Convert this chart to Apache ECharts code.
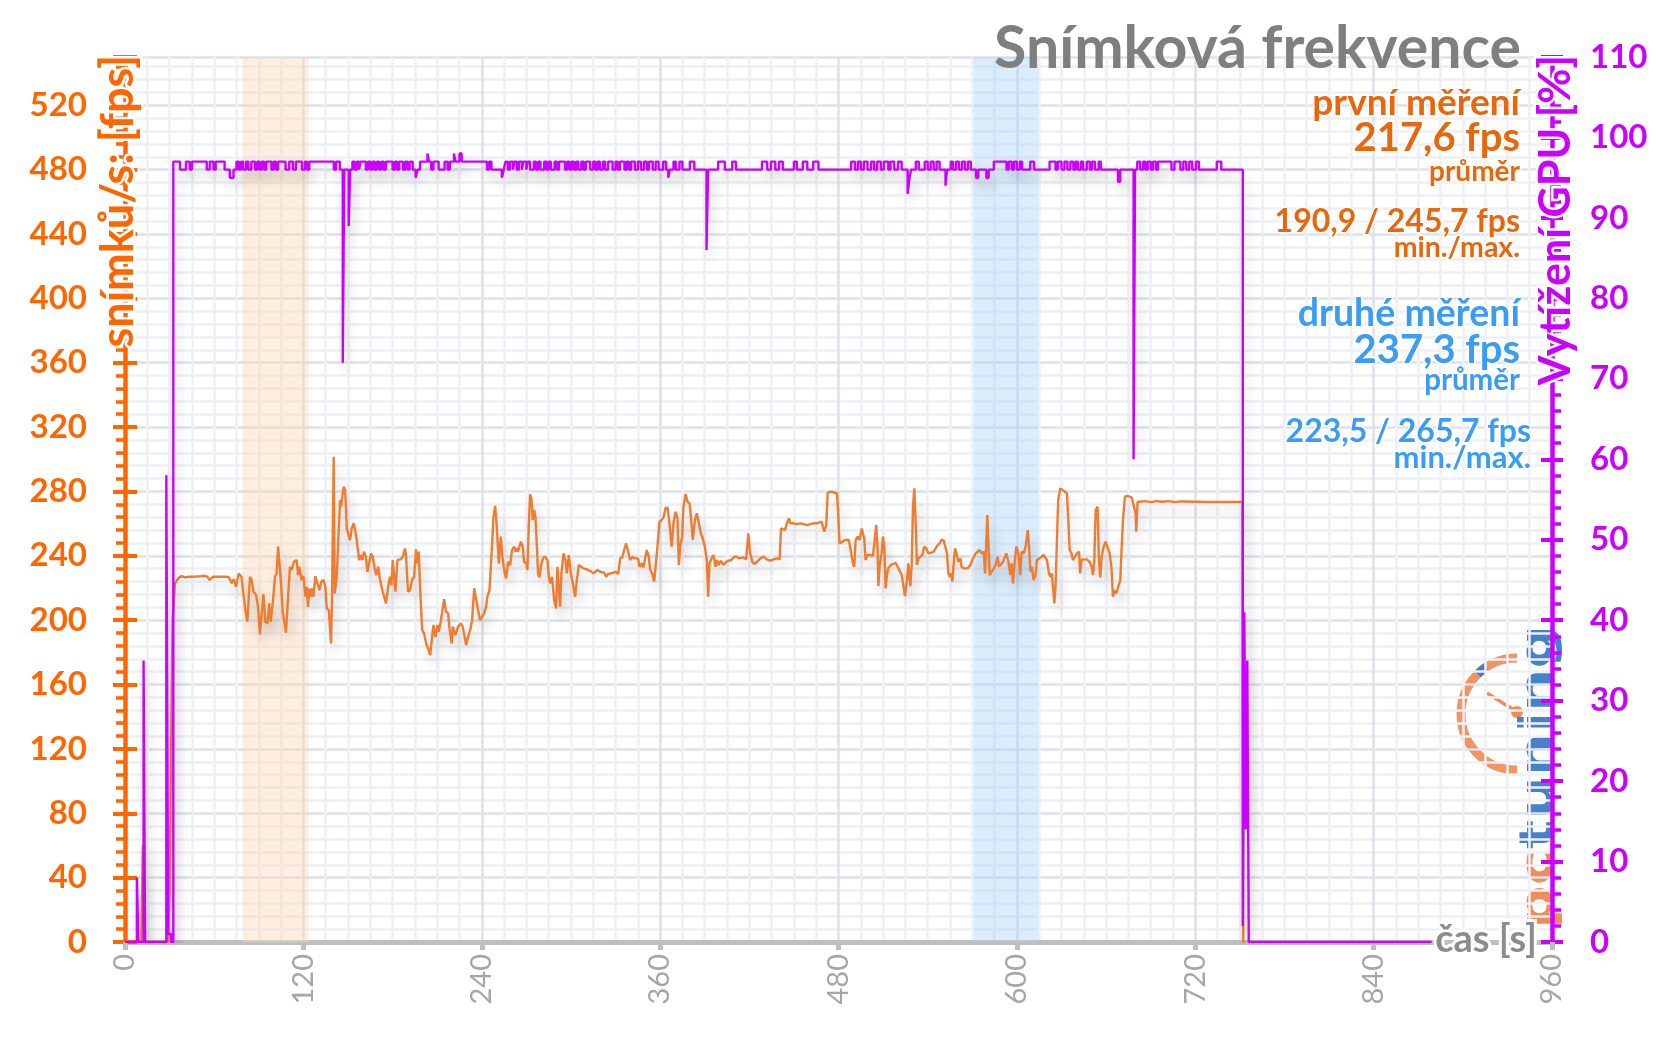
<!DOCTYPE html>
<html>
<head>
<meta charset="utf-8">
<script src="https://cdn.jsdelivr.net/npm/echarts@6/dist/echarts.min.js"></script>
<style>
html,body{margin:0;padding:0;background:#fff;}
#chart{width:1656px;height:1044px;}
</style>
</head>
<body>
<div id="chart"></div>
<script>
// ---------------- DATA ----------------
const xTicks = [0, 120, 240, 360, 480, 600, 720, 840, 960];
const fpsTicks = [0, 40, 80, 120, 160, 200, 240, 280, 320, 360, 400, 440, 480, 520];
const gpuTicks = [0, 10, 20, 30, 40, 50, 60, 70, 80, 90, 100, 110];

// frame rate [s, fps]
const fpsData = [
[0,0],[11,0],[12,60],[13,0],[29,0],[30,30],[31,120],[32,200],[33,214],[33.6,223],[35.9,226],[38.1,227.4],[40.4,226.6],[42.6,227],[46,227],[51,227.4],[53,227.6],[55.5,227],[56.7,225],[59.4,227],[64,227],[68.4,227],[70,226.6],[71.8,223],[73.2,225.6],[74.7,220.8],[76.5,229],[78.3,227],[79.6,216.6],[80.7,208.3],[81.6,208.3],[82.3,199],[84.1,227],[85.2,225],[86.4,217.7],[88.2,215.6],[89.5,208.3],[90.8,191.1],[92,204.2],[93.1,216.2],[94.4,199],[95.8,198],[97.1,210.4],[98,199],[99.4,210.4],[100.9,227],[102,229],[103,245.7],[103.9,244.6],[104.8,225],[106.1,205.2],[107,204.2],[108.3,192.2],[109.7,214.6],[111,233.2],[112.2,231.2],[112.8,233.2],[113.7,236.3],[115.5,237.4],[116.4,228],[117.3,233.2],[118.7,225],[120,227.4],[121.4,214.6],[122.2,220.8],[123.1,208.3],[124,219.6],[125,214.6],[125.8,219.8],[126.7,214.6],[128.1,227.4],[129.4,222.9],[130.8,218.7],[132.1,224],[133.5,225],[134.8,220.8],[135.7,207.3],[137.1,206.2],[138.6,185.5],[139.3,214.6],[140.4,301.6],[141.1,216.6],[142.4,226],[143.8,256],[144.7,274.7],[145.4,270.5],[146,275.7],[147.2,283],[148.1,280.9],[149.2,257],[150.3,256],[151.4,249.8],[152.5,257],[153.9,260.2],[154.8,256],[155.9,249.8],[157.5,237.4],[158.6,240.5],[159.7,237.4],[160.8,242.6],[162,239.4],[163.1,230.1],[164.4,236.3],[165.5,241.5],[166.6,239.4],[167.8,233.2],[168.9,228],[170.3,233.2],[171.6,225],[173.4,217.7],[175.6,210.4],[177.2,221.8],[178.3,227],[179.2,221.8],[180.1,237.4],[181.9,217.7],[183.3,237.4],[184.6,238.4],[185.5,237.8],[186.9,239.4],[188.4,244.6],[189,240.5],[190.4,217.7],[191.8,218.7],[193.1,225],[194.5,227],[195.8,244],[196.7,235.3],[197.6,242.6],[198.5,220.8],[199.9,193.8],[201.2,191.8],[202.6,185.5],[203.9,182.4],[205.3,178.3],[206.6,189.7],[207.5,197],[208.9,189.7],[210.2,197],[211.1,192.8],[212.4,199],[213.7,199],[214.7,213],[216,205.2],[217.4,204.2],[218.3,194.9],[219.8,185.5],[220.5,196],[222.3,190.7],[224.1,196],[225.9,198],[227.2,195.9],[228.1,197],[229.5,184.5],[230.8,189.7],[232.2,193.8],[233.5,200],[234.9,219.8],[236.2,219.8],[237.5,206.3],[238.9,200],[240.2,200],[241.6,204.2],[242.9,208.3],[243.8,214.6],[245.2,218.7],[246.5,239.4],[247.9,264.3],[249,271],[250.1,258.1],[251.5,235.3],[252.8,251.9],[254.1,237.4],[255.5,229.1],[256.4,226],[257.7,236.3],[259.1,234.3],[260.4,243.6],[261.8,245.7],[262.7,242.6],[263.5,244.6],[264.4,242.6],[266.3,248.8],[267.6,245.7],[268.5,236.3],[269.9,235.3],[270.7,231.2],[271.6,258.1],[272.5,278.4],[273.4,275.7],[274.3,262.2],[275.2,268.5],[276.1,264.3],[277,247.7],[277.9,229.1],[278.8,226.6],[280.2,235.3],[281.5,239],[282.9,239.4],[284.2,237.4],[285.1,227],[286,222.9],[287.3,227],[288.7,212.5],[290,207.3],[290.9,233.2],[291.8,233.6],[292.7,208.3],[293.6,229.1],[295,241.5],[296.3,237.4],[297.2,229.1],[298.6,240.5],[299.9,229.1],[301.3,222.9],[302.8,214.6],[304,225],[305.3,234.3],[306.6,233.2],[308.4,232.2],[310.7,231.6],[312.9,230.7],[315.2,229.1],[316.5,230.1],[317.8,231.2],[319.7,230.1],[321,229.1],[322.4,229.5],[323.7,227],[325,228.7],[326.8,229.1],[328.6,229.5],[330,230.1],[331.8,228.7],[333.1,238.4],[334.5,239],[335.8,243.6],[337.1,247.7],[338.5,242.6],[339.8,237.4],[341.2,239.4],[342.6,238.4],[343.9,239],[345.2,238.4],[346.1,233.2],[347.5,235.3],[348.8,232.8],[349.7,237.4],[351,243.6],[352.4,239.4],[353.3,231.2],[354.6,229.1],[356,223.9],[357.3,224.9],[358.2,245.7],[359.6,261.2],[361,262.2],[362.3,263.9],[363.6,269.5],[365,270.1],[366.3,260.2],[367.7,245.7],[369,260.2],[370.4,267.4],[371.7,263.3],[372.6,234.3],[373.5,245.7],[374.8,251.9],[375.7,270.5],[377.1,278.4],[378.4,273.6],[379.8,272.6],[380.7,264.3],[382,249.8],[383.4,262.2],[384.7,266.4],[386,265.4],[387.4,254],[388.7,250.8],[390.1,245.7],[391.4,237.4],[392.3,214.6],[393.2,235.3],[394.6,238.4],[395.9,240.5],[397.3,233.2],[398.2,237.4],[399.5,234.3],[400.8,237],[402.6,234.3],[404.4,236.3],[406.2,237],[408,237.4],[409.8,239.4],[411.6,239.4],[413,238.4],[414.3,239],[416,239],[417.9,237.8],[419.3,254],[420.6,241.5],[422,236.3],[423.3,234.9],[425.1,236.3],[427.4,238.4],[429.6,239.4],[431.8,237.8],[434.1,237],[436.3,237.8],[438.6,238.4],[440.4,237.8],[441.3,257],[442.6,257.7],[444,256],[445.3,260.2],[446.7,263.3],[447.5,260.2],[449.8,260.2],[452,259.7],[454.3,260.2],[456.5,259.7],[458.8,259.1],[461,259.7],[463.3,260.2],[465.5,260.2],[468.6,261.2],[470.4,255],[471.8,259.1],[472.7,279.2],[474.5,279.9],[476.7,279.5],[479,278.8],[479.9,264.3],[480.7,247.7],[482.5,248.8],[484.3,249.8],[485.6,249.4],[487,249.8],[488.3,249.8],[489.7,235.3],[490.6,233.2],[491.5,249.8],[492.9,251.9],[494.2,249.8],[495.6,257],[496.5,258.1],[497.3,250.8],[498.2,237.4],[499.6,240.5],[501.4,240.5],[503.2,239.9],[504.5,240.5],[505.4,259.1],[506.3,243.6],[506.8,221.2],[507.7,234.3],[509,241.5],[509.9,251.9],[510.8,245.7],[511.7,219.8],[512.6,228],[513.5,232.2],[514.4,231.2],[515.3,234.3],[516.6,235.3],[518.4,235.7],[519.8,233.2],[521.1,232.2],[522.5,228],[523.8,220.8],[524.7,215],[526.1,225],[527,235.3],[528.3,221.2],[529.2,233.2],[530.1,270.5],[531,281.9],[531.9,260.2],[532.8,234.3],[533.7,238.4],[535,237.4],[536.4,240.5],[537.7,245.7],[539.1,244.6],[540.4,241.5],[542.2,241.9],[544,242.6],[545.3,243.6],[546.7,246.7],[548.1,247.7],[549.4,250.2],[550.8,249.4],[552.1,249.8],[553,241.5],[553.9,229.1],[554.8,227],[555.7,229.1],[556.6,223.9],[557.5,235.3],[558.4,244.6],[559.3,241.5],[560.6,236.3],[562,238.4],[562.8,233.2],[564.2,232.2],[565.5,233.2],[566.9,232.2],[568.7,234.3],[570.5,238.4],[572.3,241.5],[573.6,242.6],[575,243.6],[576.3,241.5],[577.7,242.6],[578.6,229.1],[579.5,249.8],[580.1,265.4],[581,243.6],[581.7,228],[583,230.1],[584.4,232.2],[585.7,234.3],[587.1,239.4],[588,233.2],[589.3,234.3],[590.7,236.3],[591.6,235.3],[592.9,241.5],[594.3,236.3],[595.6,228],[596.5,235.3],[597.4,222.9],[598.3,233.2],[599.6,245.7],[601,241.5],[602.3,228],[603.2,242.6],[604.6,241.5],[605.9,245.7],[607.3,256],[608.2,245.7],[609.1,230.1],[610.1,233.2],[611.2,225],[612.4,227],[613.5,237.4],[615.1,238.4],[616.6,239.4],[618,240.5],[619.3,240.5],[620.2,237.4],[621.6,229.1],[622.5,227],[623.4,229.1],[624.3,220.8],[625.2,210.4],[626,220.8],[626.9,221.8],[627.8,274.7],[629.2,281.9],[630.5,280.9],[632.3,279.9],[633.7,278.8],[634.6,262.2],[635.5,243.6],[636.8,241.5],[637.7,237.4],[639,237.4],[640.4,241.5],[641.8,242.6],[642.6,229.1],[643.5,237.4],[644.9,237.8],[647.1,237.8],[648.9,236.3],[650.3,233.2],[651.2,228],[652.1,237.4],[653,268.5],[654.3,270.5],[655.2,237.4],[656.1,226.6],[657,239.4],[658.4,245.7],[659.7,248.8],[661,247.7],[662.4,241.5],[663.7,232.2],[664.6,214.6],[666,218.7],[666.9,216.6],[668.2,220.8],[669.6,225],[670.5,245.7],[671.4,262.2],[672.7,276.8],[674.1,277.2],[675.4,276.8],[677.2,276.3],[678.5,275.7],[679.9,266.4],[680.3,255],[681.2,273.6],[683,273.6],[686,274],[690,273.4],[694,274],[698,273.6],[702,274],[706,273.4],[710,273.8],[720,273.6],[730,273.4],[740,273.4],[751.7,273.4],[752.3,0],[753,0]
];

// GPU load [s, %] — each point is where the recorded level changes
const gpuData = [
[0,0],[8,8],[9,0],[12.5,35],[13.5,0],[27.8,58],[29,1],[31,0],[32.5,97],
[37,96],[41,97],[43.5,96],[45,97],[55,96],[57,97],[59.5,96],[61,97],[67,96],[70.5,95],[73,96],[75,97],[76.5,96],[78,97],[79.5,96],[81.5,97],[83,96],[85,97],[87.5,96],[89,97],[90.5,96],[92,97],[93.5,96],[95,97],[98.5,96],[100,97],[101.5,96],[103,97],[108,96],[110.5,97],[113,96],[115,97],[119,96],[121,97],[122.5,96],[124,97],[140.5,96],[142,97],[144.5,96],[146.5,72],[147.5,96],[150.5,89],[151.5,96],[153,97],[154.5,96],[156,97],[157.5,96],[158.5,97],[162,96],[163.5,97],[165,96],[166.5,97],[168,96],[169.5,97],[171,96],[172.5,97],[174,96],[175.5,97],[180,96],[181.5,97],[183,96],[184.5,97],[187,96],[188.5,97],[190,96],[191.5,97],[193.5,96],[195.5,95],[196.8,96],[198.5,97],[203.5,98],[204.5,97],[206,96],[207.5,97],[211,96],[215,97],[217,96],[218.5,97],[221.3,98],[222.3,97],[225,98],[226.5,97],[243.5,96],[245,97],[246.5,96],[253.5,95],[254.8,96],[256,97],[257.5,96],[259,97],[261,96],[262,97],[263.5,96],[265,97],[267,96],[268,97],[270,96],[271,97],[272.5,96],[275,97],[276.5,96],[278,97],[279.5,96],[282,97],[283.5,96],[285,97],[286.5,96],[289,97],[290.5,96],[292,97],[296,96],[297.5,97],[299,96],[300.5,97],[302,96],[303.5,97],[305,96],[307,97],[308.5,96],[310,97],[313,96],[315,97],[316.5,96],[318,97],[319.5,96],[321.5,97],[323,96],[325,97],[328,96],[330,97],[331.5,96],[333,97],[336,96],[337.5,97],[339,96],[340.5,97],[343,96],[345,97],[347,96],[349,97],[351,96],[352.5,97],[355,96],[357,97],[359,96],[362,97],[364,96],[365.5,95],[366.5,96],[369,97],[370.5,96],[373,97],[375,96],[380,97],[383,96],[391.2,86],[392.3,96],[399,97],[403.5,96],[408.5,97],[411,96],[428.5,97],[432,96],[434.5,97],[437.5,96],[440,97],[442.5,96],[450,97],[452,96],[456,97],[459,96],[463,97],[466.5,96],[488.5,97],[491,96],[493,97],[495,96],[497,97],[499.5,96],[502,97],[504,96],[506,97],[508.5,96],[510.5,97],[513.5,96],[515,97],[517.5,96],[520,97],[522.5,96],[526.5,93],[527.8,95],[528.8,96],[532,97],[534,96],[538,97],[540,96],[542,97],[544,96],[546,97],[548,96],[552,94],[553,96],[555.5,97],[557,96],[559,97],[561,96],[563,97],[565,96],[567,97],[569,96],[572.5,95],[574,96],[579.5,95],[581,96],[584.5,97],[593,96],[594.5,97],[596.5,96],[598,97],[600,96],[602,97],[603.5,96],[609,97],[611.5,96],[622,97],[626,96],[627.5,97],[630,96],[632,97],[634,96],[636,97],[638,96],[639.5,97],[641,96],[643,97],[644.5,96],[647,97],[649,96],[650.5,97],[652.5,96],[655,97],[656.5,96],[668,94.5],[669.5,96],[678.5,60],[679.5,96],[681,97],[683,96],[685,97],[686.5,96],[688,97],[690,96],[691.5,97],[693.5,96],[695,97],[704,96],[706,97],[710,96],[712,97],[714,96],[716,97],[718,96],[720.5,97],[722.5,96],[734.5,97],[737.5,96],[752,2],[753,41],[754,14],[755,35],[756,0],[879,0]
];

// highlighted measurement windows [start s, end s]
const bandFirst = [79, 123.5];
const bandSecond = [571, 614.5];

// texts
const titleText = 'Snímková frekvence';
const firstLabels = ['první měření', '217,6 fps', 'průměr', '190,9 / 245,7 fps', 'min./max.'];
const secondLabels = ['druhé měření', '237,3 fps', 'průměr', '223,5 / 265,7 fps', 'min./max.'];
const axisNames = {fps: 'snímků/s: [fps]', gpu: 'Vytížení GPU [%]', time: 'čas [s]'};

// ---------------- STYLE ----------------
const FF = 'Lato, "Open Sans", sans-serif';
const ORANGE_AX = '#ff6600';
const ORANGE_TX = '#e8670c';
const BLUE_TX = '#3a9cf2';
const MAGENTA = '#cc00ff';
const GRID_MAJOR = '#dde1ea';
const GRID_MINOR = '#eef0f5';

function txt(text, x, y, size, color, align, opts) {
  const o = opts || {};
  return {
    type: 'text', x: x, y: y, z: 100, rotation: o.rotation || 0, silent: true,
    style: {
      text: text, font: (o.weight || 'bold') + ' ' + size + 'px ' + FF,
      fill: color, align: align, verticalAlign: o.valign || 'middle',
      textAlign: align, textVerticalAlign: o.valign || 'middle',
      stroke: o.halo === false ? null : '#fff', lineWidth: o.haloW || 3, strokeFirst: true
    }
  };
}

const chart = echarts.init(document.getElementById('chart'), null, {renderer: 'canvas'});

const SHADOW = {shadowColor: 'rgba(0,0,0,0.2)', shadowBlur: 12, shadowOffsetX: 4, shadowOffsetY: 9};

const option = {
  animation: false,
  backgroundColor: '#fff',
  grid: {left: 125, right: 104, top: 57, bottom: 102, containLabel: false, outerBoundsMode: 'none'},
  xAxis: {
    type: 'value', min: xTicks[0], max: xTicks[xTicks.length - 1], interval: xTicks[1] - xTicks[0],
    axisLine: {show: true, onZero: false, lineStyle: {color: '#bfbfbf', width: 5}},
    axisTick: {show: true, length: 8, lineStyle: {color: '#bfbfbf', width: 5}},
    minorTick: {show: false, splitNumber: 8},
    axisLabel: {rotate: 90, color: '#a6a6a6', fontFamily: FF, fontSize: 29, margin: 12, showMinLabel: true, showMaxLabel: true, hideOverlap: false},
    splitLine: {show: true, lineStyle: {color: GRID_MAJOR, width: 2.5}},
    minorSplitLine: {show: true, lineStyle: {color: GRID_MINOR, width: 2.5}}
  },
  yAxis: [
    {
      type: 'value', position: 'left', min: 0, max: 550, interval: fpsTicks[1] - fpsTicks[0],
      axisLine: {show: true, onZero: false, lineStyle: {color: ORANGE_AX, width: 4.5}},
      axisTick: {show: true, inside: false, length: 12, lineStyle: {color: ORANGE_AX, width: 4}},
      minorTick: {show: true, splitNumber: 5, length: 9, lineStyle: {color: ORANGE_AX, width: 3.5}},
      axisLabel: {color: ORANGE_AX, fontFamily: FF, fontWeight: 'bold', fontSize: 33, margin: 38, showMaxLabel: false, hideOverlap: false,
        formatter: function (v) { return fpsTicks.indexOf(v) >= 0 ? String(v) : ''; }},
      splitLine: {show: true, lineStyle: {color: GRID_MAJOR, width: 2.5}},
      minorSplitLine: {show: true, lineStyle: {color: GRID_MINOR, width: 2.5}}
    },
    {
      type: 'value', position: 'left', min: 0, max: 550, interval: 40,
      axisLine: {show: false, onZero: false},
      axisTick: {show: true, inside: true, length: 12, lineStyle: {color: ORANGE_AX, width: 4}},
      axisLabel: {show: false}, splitLine: {show: false}
    },
    {
      type: 'value', position: 'right', min: 0, max: 110, interval: gpuTicks[1] - gpuTicks[0],
      axisLine: {show: true, onZero: false, lineStyle: {color: MAGENTA, width: 4.5}},
      axisTick: {show: true, inside: false, length: 11, lineStyle: {color: MAGENTA, width: 4}},
      minorTick: {show: true, splitNumber: 5, length: 9, lineStyle: {color: MAGENTA, width: 3.5}},
      axisLabel: {color: MAGENTA, fontFamily: FF, fontWeight: 'bold', fontSize: 33, margin: 38, hideOverlap: false,
        formatter: function (v) { return gpuTicks.indexOf(v) >= 0 ? String(v) : ''; }},
      splitLine: {show: false}
    },
    {
      type: 'value', position: 'right', min: 0, max: 110, interval: 10,
      axisLine: {show: false, onZero: false},
      axisTick: {show: true, inside: true, length: 11, lineStyle: {color: MAGENTA, width: 4}},
      axisLabel: {show: false}, splitLine: {show: false}
    }
  ],
  series: [
    {
      name: 'fps', type: 'line', xAxisIndex: 0, yAxisIndex: 0, data: fpsData,
      showSymbol: false, symbol: 'none', z: 3,
      lineStyle: Object.assign({color: '#ee7d31', width: 2.4}, SHADOW),
      markArea: {
        silent: true,
        data: [
          [{xAxis: bandFirst[0], itemStyle: {color: 'rgba(250,215,180,0.42)'}}, {xAxis: bandFirst[1]}],
          [{xAxis: bandSecond[0], itemStyle: {color: 'rgba(170,210,250,0.42)'}}, {xAxis: bandSecond[1]}]
        ]
      }
    },
    {
      name: 'gpu', type: 'line', xAxisIndex: 0, yAxisIndex: 2, data: gpuData, step: 'end',
      showSymbol: false, symbol: 'none', z: 4,
      lineStyle: Object.assign({color: MAGENTA, width: 2.4}, SHADOW)
    }
  ],
  graphic: [
    txt(titleText, 1521, 49, 59, '#7f7f7f', 'right', {halo: false}),
    txt(firstLabels[0], 1520, 103, 37, ORANGE_TX, 'right'),
    txt(firstLabels[1], 1520, 138, 40, ORANGE_TX, 'right'),
    txt(firstLabels[2], 1520, 172, 28, ORANGE_TX, 'right'),
    txt(firstLabels[3], 1520, 222, 32, ORANGE_TX, 'right'),
    txt(firstLabels[4], 1520, 248, 28.5, ORANGE_TX, 'right'),
    txt(secondLabels[0], 1520, 314, 37.5, BLUE_TX, 'right'),
    txt(secondLabels[1], 1520, 350, 40, BLUE_TX, 'right'),
    txt(secondLabels[2], 1520, 380, 29.5, BLUE_TX, 'right'),
    txt(secondLabels[3], 1531, 432, 32, BLUE_TX, 'right'),
    txt(secondLabels[4], 1531, 458, 31, BLUE_TX, 'right'),
    txt(axisNames.fps, 118, 55, 45, ORANGE_AX, 'right', {rotation: Math.PI / 2, haloW: 5}),
    txt(axisNames.gpu, 1556, 55, 43, MAGENTA, 'right', {rotation: Math.PI / 2, haloW: 5}),
    txt(axisNames.time, 1537, 940, 38, '#8c8c8c', 'right', {haloW: 6}),
    // pctuning watermark logo
    {
      type: 'group', z: 90, silent: true,
      children: [
        {type: 'arc', shape: {cx: 1517, cy: 714, r: 56, startAngle: -Math.PI / 2, endAngle: Math.PI / 2, clockwise: false},
         style: {stroke: 'rgba(240,130,70,0.85)', lineWidth: 9, fill: null}},
        {type: 'arc', shape: {cx: 1517, cy: 714, r: 56, startAngle: -2.35, endAngle: -2.15, clockwise: true},
         style: {stroke: 'rgba(60,120,200,0.9)', lineWidth: 9, fill: null}},
        {type: 'line', shape: {x1: 1517, y1: 712, x2: 1487, y2: 693}, style: {stroke: 'rgba(240,130,70,0.9)', lineWidth: 3.5}},
        {type: 'circle', shape: {cx: 1517, cy: 712, r: 6}, style: {fill: 'rgba(240,130,70,0.9)'}},
        {
          type: 'text', x: 1563, y: 929, rotation: Math.PI / 2, scaleX: 1.3,
          style: {
            text: '{a|pc}{b|tuning}', align: 'left', verticalAlign: 'bottom', textAlign: 'left', textVerticalAlign: 'bottom',
            rich: {
              a: {fill: 'rgba(240,130,70,0.9)', font: 'bold 47px "DejaVu Sans"'},
              b: {fill: 'rgba(50,115,195,0.9)', font: 'bold 47px "DejaVu Sans"'}
            }
          }
        }
      ]
    }
  ]
};
chart.setOption(option);
</script>
</body>
</html>
